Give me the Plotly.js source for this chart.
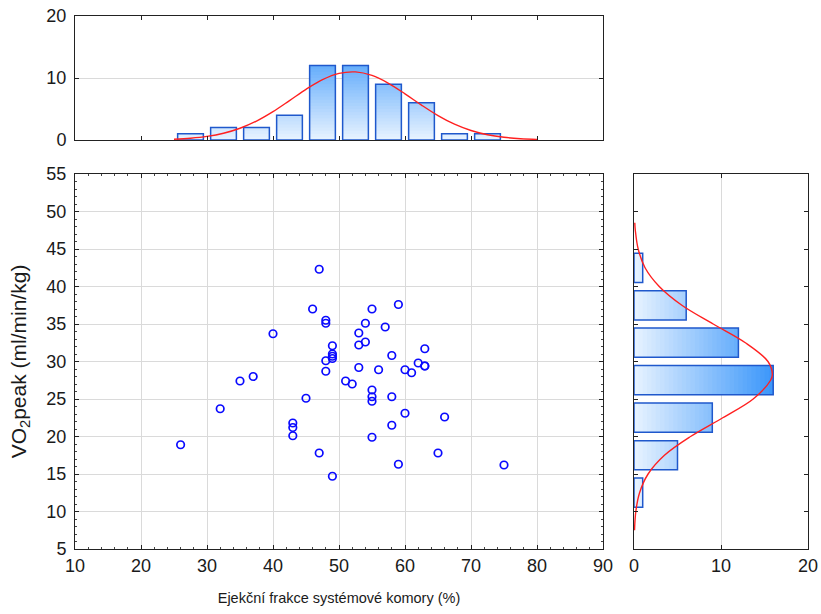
<!DOCTYPE html>
<html>
<head>
<meta charset="utf-8">
<script src="https://cdn.plot.ly/plotly-3.0.1.min.js"></script>
<style>html,body{margin:0;padding:0;background:#fff;}#chart{width:821px;height:614px;}</style>
</head>
<body>
<div id="chart"></div>
<script>
// ---- data ----
const efValues  = [47, 46, 55, 59, 48, 48, 54, 57, 53, 40, 53, 54, 49, 49, 49, 49, 48, 63, 58, 48, 53, 56, 62, 63, 63, 60, 61, 35, 37, 51, 52, 55, 55, 55, 45, 58, 32, 60, 66, 43, 43, 43, 58, 55, 26, 47, 65, 59, 75, 49];
const vo2Values = [42.3, 37.0, 37.0, 37.6, 35.5, 35.1, 35.1, 34.6, 33.8, 33.7, 32.2, 32.6, 32.1, 31.0, 30.7, 30.4, 30.1, 31.7, 30.8, 28.7, 29.2, 28.9, 29.8, 29.4, 29.4, 28.9, 28.5, 27.4, 28.0, 27.4, 27.0, 26.2, 25.3, 24.7, 25.1, 25.3, 23.7, 23.1, 22.6, 21.8, 21.2, 20.1, 21.5, 19.9, 18.9, 17.8, 17.8, 16.3, 16.2, 14.7];

const efBinCenters = [27.5, 32.5, 37.5, 42.5, 47.5, 52.5, 57.5, 62.5, 67.5, 72.5];
const efCounts     = [1, 2, 2, 4, 12, 12, 9, 6, 1, 1];
const vo2BinCenters = [12.5, 17.5, 22.5, 27.5, 32.5, 37.5, 42.5];
const vo2Counts     = [1, 5, 9, 16, 12, 6, 1];

const efCurveX = [25, 27.5, 30, 32.5, 35, 37.5, 40, 42.5, 45, 47.5, 50, 52.5, 55, 57.5, 60, 62.5, 65, 67.5, 70, 72.5, 75, 77.5, 80];
const efCurveY = [0.13, 0.29, 0.58, 1.09, 1.90, 3.06, 4.58, 6.35, 8.17, 9.73, 10.74, 10.98, 10.41, 9.15, 7.45, 5.63, 3.94, 2.55, 1.53, 0.85, 0.44, 0.21, 0.09];
const vo2CurveY = [7.5, 10, 12.5, 15, 17.5, 20, 22.5, 25, 27.5, 28.3, 30, 32.5, 35, 37.5, 40, 42.5, 45, 47.5, 48.5];
const vo2CurveX = [0.06, 0.21, 0.64, 1.62, 3.5, 6.5, 10.2, 13.7, 15.7, 15.9, 15.4, 12.8, 9.1, 5.5, 2.9, 1.27, 0.48, 0.15, 0.09];

const xTitle = 'Ejekční frakce systémové komory (%)';
const yTitle = 'VO<sub>2</sub>peak (ml/min/kg)';

// ---- styling ----
const W = 821, H = 614;
const fx = p => p / W, fy = p => 1 - p / H;
const lightRGB = [232, 243, 255], darkRGB = [58, 150, 250], darkLevel = 16;
function levelColor(l) {
  const t = Math.min(1, l / darkLevel);
  const c = lightRGB.map((v, i) => Math.round(v + (darkRGB[i] - v) * t));
  return 'rgb(' + c.join(',') + ')';
}
const outline = '#1f58cc';
const barW = 3.9;
const step = 0.5;

const traces = [];
for (let L = 0; L < Math.max(...efCounts); L += step) {
  traces.push({
    type: 'bar', x: efBinCenters, base: L,
    y: efCounts.map(c => Math.max(0, Math.min(step * 2, c - L))),
    width: barW, xaxis: 'x2', yaxis: 'y2',
    marker: {color: levelColor(L + step / 2), line: {width: 0}},
    hoverinfo: 'skip', showlegend: false
  });
}
traces.push({
  type: 'bar', x: efBinCenters, y: efCounts, width: barW, xaxis: 'x2', yaxis: 'y2',
  marker: {color: 'rgba(0,0,0,0)', line: {color: outline, width: 1.5}}, showlegend: false
});
traces.push({
  type: 'scatter', mode: 'lines', x: efCurveX, y: efCurveY, xaxis: 'x2', yaxis: 'y2',
  line: {color: '#ff2020', width: 1.4, shape: 'spline'}, showlegend: false
});
for (let L = 0; L < Math.max(...vo2Counts); L += step) {
  traces.push({
    type: 'bar', orientation: 'h', y: vo2BinCenters, base: L,
    x: vo2Counts.map(c => Math.max(0, Math.min(step * 2, c - L))),
    width: barW, xaxis: 'x3', yaxis: 'y3',
    marker: {color: levelColor(L + step / 2), line: {width: 0}},
    hoverinfo: 'skip', showlegend: false
  });
}
traces.push({
  type: 'bar', orientation: 'h', y: vo2BinCenters, x: vo2Counts, width: barW, xaxis: 'x3', yaxis: 'y3',
  marker: {color: 'rgba(0,0,0,0)', line: {color: outline, width: 1.5}}, showlegend: false
});
traces.push({
  type: 'scatter', mode: 'lines', x: vo2CurveX, y: vo2CurveY, xaxis: 'x3', yaxis: 'y3',
  line: {color: '#ff2020', width: 1.4, shape: 'spline'}, showlegend: false
});
traces.push({
  type: 'scatter', mode: 'markers', x: efValues, y: vo2Values,
  marker: {symbol: 'circle-open', size: 7.5, color: '#0a0aff', line: {width: 1.7, color: '#0a0aff'}},
  showlegend: false
});

const fam = 'Liberation Sans, Arial, sans-serif';
function axis(extra) {
  return Object.assign({
    showline: true, linecolor: '#222', linewidth: 1, mirror: 'ticks',
    ticks: 'inside', ticklen: 4, tickcolor: '#222', zeroline: false,
    gridcolor: '#dadada', gridwidth: 1, fixedrange: true,
    tickfont: {family: fam, size: 18, color: '#1a1a1a'}
  }, extra);
}
const layout = {
  width: W, height: H, margin: {l: 0, r: 0, t: 0, b: 0},
  paper_bgcolor: '#fff', plot_bgcolor: '#fff', barmode: 'overlay', showlegend: false,
  font: {family: fam, size: 18, color: '#1a1a1a'},
  xaxis: axis({
    domain: [fx(75), fx(603)], range: [10, 90], dtick: 10, tick0: 10, anchor: 'y',
    showgrid: true,
    minor: {dtick: 2, ticks: 'inside', ticklen: 2, tickcolor: '#444', showgrid: false},
    title: {text: xTitle, font: {family: fam, size: 14.5, color: '#1a1a1a'}, standoff: 18}
  }),
  yaxis: axis({
    domain: [fy(549), fy(174)], range: [5, 55], dtick: 5, tick0: 5, anchor: 'x',
    showgrid: true, ticklabelstandoff: 4,
    minor: {dtick: 1, ticks: 'inside', ticklen: 2, tickcolor: '#444', showgrid: false},
    title: {text: yTitle, font: {family: fam, size: 21, color: '#1a1a1a'}, standoff: 14}
  }),
  xaxis2: axis({
    domain: [fx(75), fx(603)], range: [10, 90], dtick: 10, tick0: 10, anchor: 'y2',
    showgrid: false, showticklabels: false
  }),
  yaxis2: axis({
    domain: [fy(140), fy(16)], range: [0, 20], dtick: 10, tick0: 0, anchor: 'x2',
    showgrid: true, ticklabelstandoff: 4
  }),
  xaxis3: axis({
    domain: [fx(634), fx(808)], range: [0, 20], dtick: 10, tick0: 0, anchor: 'y3',
    showgrid: true
  }),
  yaxis3: axis({
    domain: [fy(549), fy(174)], range: [5, 55], dtick: 5, tick0: 5, anchor: 'x3',
    showgrid: false, showticklabels: false
  })
};
Plotly.newPlot('chart', traces, layout, {displayModeBar: false, staticPlot: true});
</script>
</body>
</html>
